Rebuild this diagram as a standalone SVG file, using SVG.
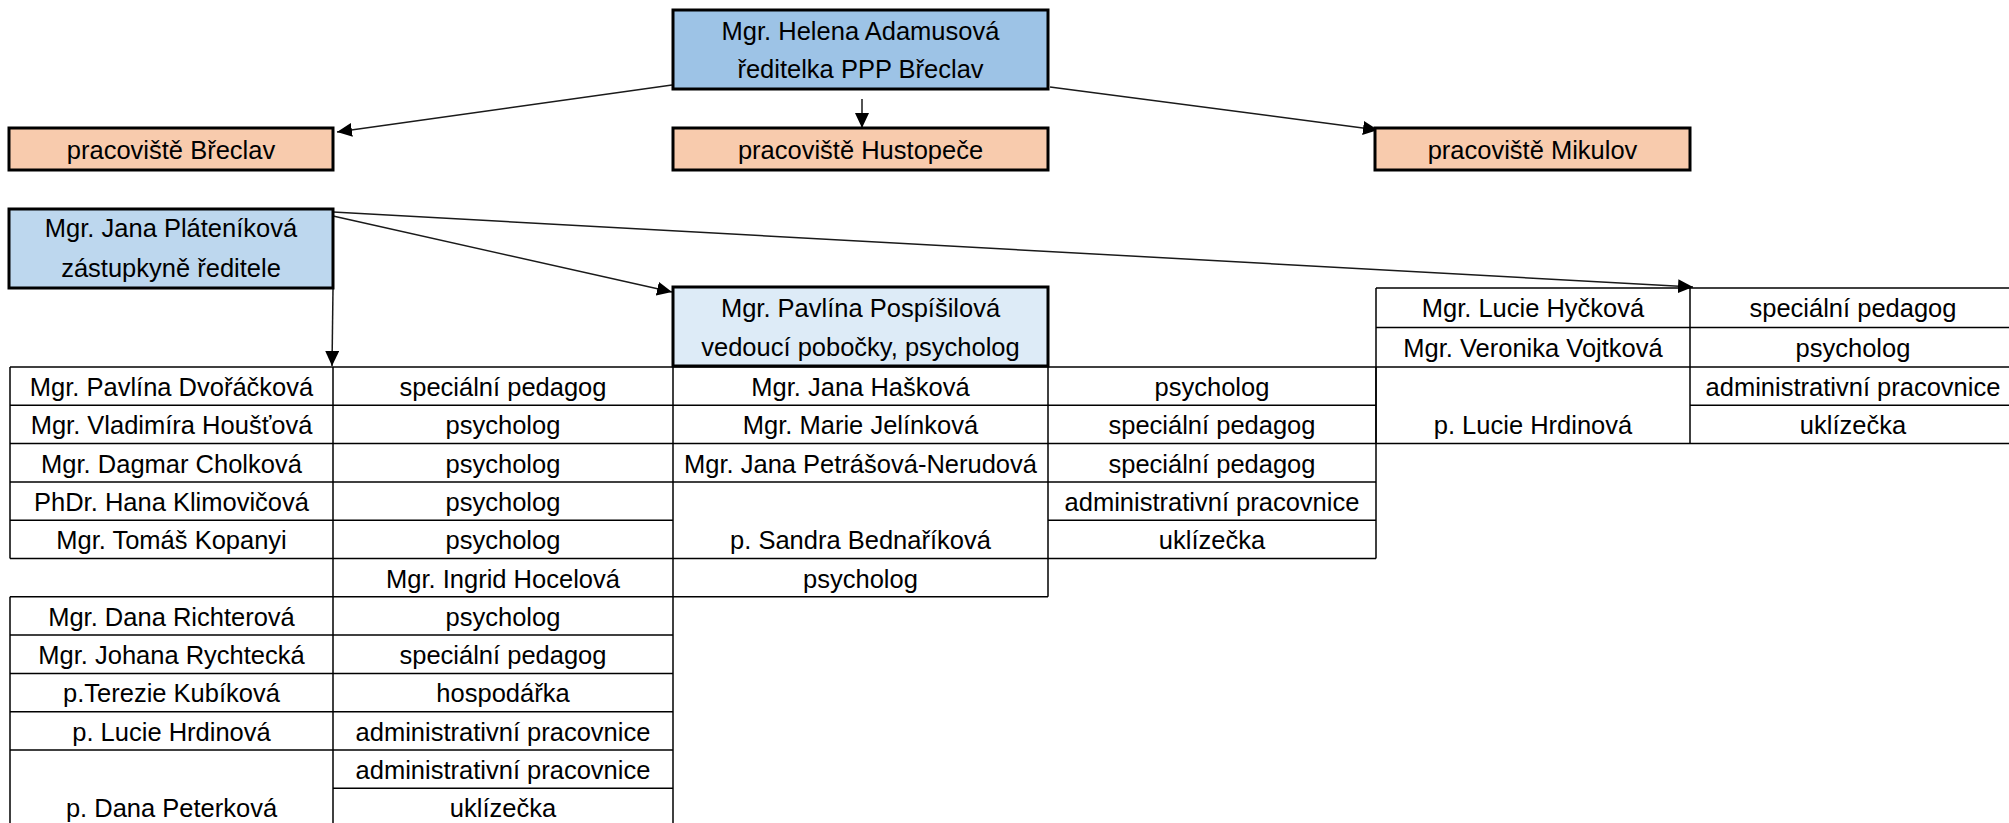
<svg xmlns="http://www.w3.org/2000/svg" width="2009" height="823" viewBox="0 0 2009 823">
<style>
text{font-family:"Liberation Sans",Arial,sans-serif;font-size:25.5px;fill:#000;text-anchor:middle}
.box{stroke:#000;stroke-width:3}
.head{fill:#9DC3E6}
.dep{fill:#BDD7EE}
.lead{fill:#DDEBF7}
.site{fill:#F8CBAD}
.grid line{stroke:#000;stroke-width:1.5}
.conn line{stroke:#1a1a1a;stroke-width:1.5;marker-end:url(#arr)}
</style>
<defs>
<marker id="arr" markerUnits="userSpaceOnUse" markerWidth="16" markerHeight="14" refX="15" refY="7" orient="auto">
<path d="M0,0 L15,7 L0,14 Z" fill="#000"/>
</marker>
</defs>
<rect width="2009" height="823" fill="#fff"/>

<g id="connectors" class="conn">
<line x1="672" y1="85" x2="337" y2="132"/>
<line x1="862" y1="99" x2="862" y2="128"/>
<line x1="1050" y1="87" x2="1378" y2="130"/>
<line x1="333" y1="212" x2="1693" y2="287"/>
<line x1="333" y1="216" x2="672" y2="292"/>
<line x1="333" y1="289" x2="332" y2="366"/>
</g>

<g id="node-reditelka">
<rect class="box head" x="673" y="10" width="375" height="79"/>
<text x="860.5" y="40">Mgr. Helena Adamusová</text>
<text x="860.5" y="78">ředitelka PPP Břeclav</text>
</g>
<g id="node-breclav">
<rect class="box site" x="9" y="128" width="324" height="42"/>
<text x="171" y="159">pracoviště Břeclav</text>
</g>
<g id="node-hustopece">
<rect class="box site" x="673" y="128" width="375" height="42"/>
<text x="860.5" y="159">pracoviště Hustopeče</text>
</g>
<g id="node-mikulov">
<rect class="box site" x="1375" y="128" width="315" height="42"/>
<text x="1532.5" y="159">pracoviště Mikulov</text>
</g>
<g id="node-zastupkyne">
<rect class="box dep" x="9" y="209" width="324" height="79"/>
<text x="171" y="237">Mgr. Jana Pláteníková</text>
<text x="171" y="277">zástupkyně ředitele</text>
</g>
<g id="node-vedouci">
<rect class="box lead" x="673" y="287" width="375" height="79"/>
<text x="860.5" y="317">Mgr. Pavlína Pospíšilová</text>
<text x="860.5" y="356">vedoucí pobočky, psycholog</text>
</g>

<g id="table-breclav">
<g class="grid">
<line x1="10" y1="367" x2="673" y2="367"/>
<line x1="10" y1="405.3" x2="673" y2="405.3"/>
<line x1="10" y1="443.6" x2="673" y2="443.6"/>
<line x1="10" y1="481.9" x2="673" y2="481.9"/>
<line x1="10" y1="520.2" x2="673" y2="520.2"/>
<line x1="10" y1="558.5" x2="673" y2="558.5"/>
<line x1="10" y1="596.8" x2="673" y2="596.8"/>
<line x1="10" y1="635.1" x2="673" y2="635.1"/>
<line x1="10" y1="673.4" x2="673" y2="673.4"/>
<line x1="10" y1="711.7" x2="673" y2="711.7"/>
<line x1="10" y1="750" x2="673" y2="750"/>
<line x1="333" y1="788.3" x2="673" y2="788.3"/>
<line x1="10" y1="367" x2="10" y2="558.5"/>
<line x1="10" y1="596.8" x2="10" y2="823"/>
<line x1="333" y1="367" x2="333" y2="823"/>
<line x1="673" y1="367" x2="673" y2="823"/>
</g>
<text x="171.5" y="396">Mgr. Pavlína Dvořáčková</text><text x="503" y="396">speciální pedagog</text>
<text x="171.5" y="434.3">Mgr. Vladimíra Houšťová</text><text x="503" y="434.3">psycholog</text>
<text x="171.5" y="472.6">Mgr. Dagmar Cholková</text><text x="503" y="472.6">psycholog</text>
<text x="171.5" y="510.9">PhDr. Hana Klimovičová</text><text x="503" y="510.9">psycholog</text>
<text x="171.5" y="549.2">Mgr. Tomáš Kopanyi</text><text x="503" y="549.2">psycholog</text>
<text x="503" y="587.5">Mgr. Ingrid Hocelová</text>
<text x="171.5" y="625.8">Mgr. Dana Richterová</text><text x="503" y="625.8">psycholog</text>
<text x="171.5" y="664.1">Mgr. Johana Rychtecká</text><text x="503" y="664.1">speciální pedagog</text>
<text x="171.5" y="702.4">p.Terezie Kubíková</text><text x="503" y="702.4">hospodářka</text>
<text x="171.5" y="740.7">p. Lucie Hrdinová</text><text x="503" y="740.7">administrativní pracovnice</text>
<text x="503" y="779">administrativní pracovnice</text>
<text x="171.5" y="817.3">p. Dana Peterková</text><text x="503" y="817.3">uklízečka</text>
</g>

<g id="table-hustopece">
<g class="grid">
<line x1="673" y1="367" x2="1376" y2="367"/>
<line x1="673" y1="405.3" x2="1376" y2="405.3"/>
<line x1="673" y1="443.6" x2="1376" y2="443.6"/>
<line x1="673" y1="481.9" x2="1376" y2="481.9"/>
<line x1="1048" y1="520.2" x2="1376" y2="520.2"/>
<line x1="673" y1="558.5" x2="1376" y2="558.5"/>
<line x1="673" y1="596.8" x2="1048" y2="596.8"/>
<line x1="1048" y1="367" x2="1048" y2="596.8"/>
<line x1="1376" y1="367" x2="1376" y2="558.5"/>
</g>
<text x="860.5" y="396">Mgr. Jana Hašková</text><text x="1212" y="396">psycholog</text>
<text x="860.5" y="434.3">Mgr. Marie Jelínková</text><text x="1212" y="434.3">speciální pedagog</text>
<text x="860.5" y="472.6">Mgr. Jana Petrášová-Nerudová</text><text x="1212" y="472.6">speciální pedagog</text>
<text x="1212" y="510.9">administrativní pracovnice</text>
<text x="860.5" y="549.2">p. Sandra Bednaříková</text><text x="1212" y="549.2">uklízečka</text>
<text x="860.5" y="587.5">psycholog</text>
</g>

<g id="table-mikulov">
<g class="grid">
<line x1="1376" y1="288" x2="2009" y2="288"/>
<line x1="1376" y1="327.5" x2="2009" y2="327.5"/>
<line x1="1376" y1="367" x2="2009" y2="367"/>
<line x1="1690" y1="405.3" x2="2009" y2="405.3"/>
<line x1="1376" y1="443.6" x2="2009" y2="443.6"/>
<line x1="1376" y1="288" x2="1376" y2="443.6"/>
<line x1="1690" y1="288" x2="1690" y2="443.6"/>
</g>
<text x="1533" y="317">Mgr. Lucie Hyčková</text><text x="1853" y="317">speciální pedagog</text>
<text x="1533" y="356.5">Mgr. Veronika Vojtková</text><text x="1853" y="356.5">psycholog</text>
<text x="1853" y="396">administrativní pracovnice</text>
<text x="1533" y="434.3">p. Lucie Hrdinová</text><text x="1853" y="434.3">uklízečka</text>
</g>
</svg>
